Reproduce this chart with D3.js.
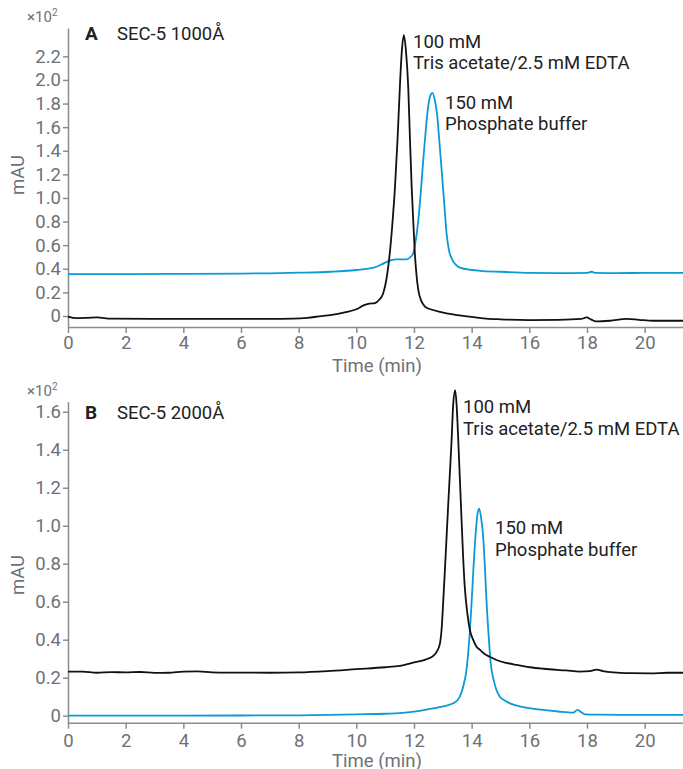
<!DOCTYPE html>
<html>
<head>
<meta charset="utf-8">
<script src="https://cdn.jsdelivr.net/npm/d3@7"></script>
<style>
  body { margin: 0; background: #fff; overflow: hidden; }
  svg { display: block; font-family: Roboto, sans-serif; }
</style>
</head>
<body>
<div id="app"></div>
<script>
// x ticks (min)
const xTicks = [0, 2, 4, 6, 8, 10, 12, 14, 16, 18, 20];
const yTicksA = [0, 0.2, 0.4, 0.6, 0.8, 1.0, 1.2, 1.4, 1.6, 1.8, 2.0, 2.2];
const yTicksB = [0, 0.2, 0.4, 0.6, 0.8, 1.0, 1.2, 1.4, 1.6];

// Panel A : SEC-5 1000Å   [time (min), mAU x10^2]
const trisA = [[0,-0.005],[0.3,-0.018],[0.7,-0.015],[1.0,-0.012],[1.5,-0.022],[3,-0.024],[5,-0.025],[7,-0.025],
  [7.8,-0.022],[8.3,-0.015],[8.8,0.0],[9.1,0.008],[9.6,0.03],[10.0,0.057],[10.25,0.09],[10.45,0.105],[10.65,0.11],
  [10.8,0.14],[10.93,0.19],[11.05,0.32],[11.16,0.53],[11.25,0.78],[11.34,1.09],[11.43,1.5],[11.51,1.94],[11.58,2.25],
  [11.65,2.38],[11.72,2.25],[11.8,1.94],[11.86,1.5],[11.92,1.09],[11.98,0.78],[12.03,0.53],[12.09,0.34],[12.15,0.22],
  [12.25,0.13],[12.38,0.08],[12.6,0.055],[12.9,0.036],[13.4,0.012],[13.94,-0.006],[14.5,-0.022],[15,-0.028],[16,-0.034],
  [17,-0.032],[17.8,-0.025],[17.98,-0.012],[18.15,-0.03],[18.3,-0.046],[18.8,-0.04],[19.37,-0.025],[19.8,-0.032],
  [20.3,-0.04],[21.33,-0.04]];
const phosA = [[0,0.355],[2,0.355],[4,0.357],[6,0.36],[7,0.362],[8,0.367],[9.1,0.375],[10,0.39],[10.6,0.41],[10.9,0.44],
  [11.16,0.47],[11.4,0.48],[11.74,0.48],[11.88,0.5],[11.97,0.53],[12.06,0.64],[12.15,0.81],[12.24,1.06],[12.32,1.32],
  [12.41,1.58],[12.49,1.77],[12.57,1.87],[12.64,1.89],[12.72,1.83],[12.8,1.71],[12.88,1.48],[12.96,1.235],[13.05,0.95],
  [13.13,0.70],[13.21,0.56],[13.3,0.49],[13.45,0.435],[13.59,0.41],[14.0,0.39],[14.29,0.383],[15,0.375],[16.02,0.366],
  [17,0.364],[18.0,0.365],[18.15,0.375],[18.3,0.365],[19,0.364],[20,0.365],[21.33,0.365]];

// Panel B : SEC-5 2000Å
const trisB = [[0,0.232],[0.5,0.232],[1,0.226],[1.5,0.229],[2,0.228],[2.5,0.23],[3,0.225],[3.5,0.226],[4,0.232],
  [4.5,0.233],[5,0.228],[5.5,0.227],[6,0.227],[7,0.226],[8,0.228],[9,0.235],[10,0.245],[11,0.255],[11.5,0.262],
  [12.0,0.28],[12.4,0.295],[12.67,0.315],[12.8,0.34],[12.9,0.38],[12.96,0.46],[13.01,0.59],[13.07,0.76],[13.13,0.94],
  [13.19,1.12],[13.25,1.29],[13.31,1.47],[13.36,1.64],[13.43,1.714],[13.48,1.63],[13.53,1.47],[13.59,1.25],[13.65,1.03],
  [13.7,0.85],[13.76,0.68],[13.85,0.54],[13.94,0.45],[14.05,0.4],[14.17,0.363],[14.29,0.346],[14.45,0.325],[14.63,0.31],
  [14.86,0.293],[15.2,0.278],[15.56,0.267],[16.02,0.255],[16.5,0.247],[17.29,0.238],[17.75,0.232],[18.1,0.234],
  [18.33,0.242],[18.55,0.235],[18.91,0.228],[19.5,0.224],[20.2,0.223],[20.8,0.226],[21.33,0.226]];
const phosB = [[0,0.0],[2,0.0],[4,0.0],[6,0.001],[8,0.002],[9,0.004],[10,0.007],[11,0.01],[11.51,0.013],[12.2,0.025],
  [12.67,0.039],[13.1,0.052],[13.36,0.065],[13.5,0.08],[13.59,0.1],[13.7,0.15],[13.82,0.24],[13.88,0.33],[13.94,0.45],
  [14.0,0.6],[14.06,0.77],[14.15,0.98],[14.2,1.06],[14.26,1.09],[14.33,1.04],[14.4,0.94],[14.46,0.78],[14.52,0.59],
  [14.59,0.42],[14.66,0.276],[14.76,0.19],[14.86,0.135],[14.98,0.1],[15.15,0.08],[15.33,0.065],[15.7,0.048],[16.0,0.04],
  [16.48,0.03],[17.0,0.022],[17.52,0.016],[17.67,0.03],[17.8,0.018],[17.93,0.007],[18.5,0.005],[19.5,0.004],[21.33,0.004]];

const width = 683, height = 769;
const marginLeft = 68;
const fontSize = 18.5;
const black = "#111111", blue = "#0a9ad8";
const axisGray = "#8a8d92", textGray = "#6e7177";

const svg = d3.select("#app").append("svg")
  .attr("width", width).attr("height", height)
  .attr("viewBox", [0, 0, width, height]);

const x = d3.scaleLinear().domain([0, 21.33]).range([marginLeft, width]);

function panel(cfg) {
  const y = d3.scaleLinear().domain(cfg.yDomain).range([cfg.bottom, cfg.top]);
  const g = svg.append("g");

  // y axis
  g.append("g")
    .attr("transform", `translate(${marginLeft},0)`)
    .call(d3.axisLeft(y).tickValues(cfg.yTicks).tickSize(5).tickSizeOuter(0).tickPadding(2)
      .tickFormat(d => d === 0 ? "0" : d.toFixed(1)))
    .call(a => a.selectAll("path,line").attr("stroke", axisGray).attr("stroke-width", 1.5))
    .call(a => a.selectAll("text").attr("fill", textGray).attr("font-size", fontSize).attr("font-family", "Roboto"));

  // x axis
  g.append("g")
    .attr("transform", `translate(0,${cfg.bottom})`)
    .call(d3.axisBottom(x).tickValues(xTicks).tickSize(6).tickSizeOuter(0).tickPadding(cfg.xPad))
    .call(a => a.selectAll("path,line").attr("stroke", axisGray).attr("stroke-width", 1.5))
    .call(a => a.selectAll("text").attr("fill", textGray).attr("font-size", fontSize).attr("font-family", "Roboto"));

  // axis titles
  g.append("text")
    .attr("x", 377).attr("y", cfg.bottom + cfg.titleOff)
    .attr("text-anchor", "middle").attr("fill", textGray).attr("font-size", fontSize)
    .text("Time (min)");
  g.append("text")
    .attr("transform", `translate(24,${cfg.labelY}) rotate(-90)`)
    .attr("text-anchor", "middle").attr("fill", textGray).attr("font-size", fontSize)
    .text("mAU");
  const mult = g.append("text")
    .attr("x", 27).attr("y", cfg.top - 6)
    .attr("fill", textGray).attr("font-size", 15);
  mult.append("tspan").text("×10");
  mult.append("tspan").attr("font-size", 10).attr("dy", -6).text("2");

  // panel title
  const title = g.append("text").attr("x", 85).attr("y", cfg.top + cfg.titleY).attr("fill", "#222").attr("font-size", fontSize);
  title.append("tspan").attr("font-weight", "bold").attr("font-size", 19).text(cfg.letter);
  title.append("tspan").attr("x", 117).text(cfg.name);

  const line = d3.line().x(d => x(d[0])).y(d => y(d[1])).curve(d3.curveMonotoneX);

  g.append("path").datum(cfg.phos).attr("fill", "none").attr("stroke", blue).attr("stroke-width", 1.8).attr("d", line);
  g.append("path").datum(cfg.tris).attr("fill", "none").attr("stroke", black).attr("stroke-width", 1.8).attr("d", line);

  // peak labels
  const lab = (xx, yy, lines) => {
    const t = g.append("text").attr("fill", "#222").attr("font-size", fontSize);
    lines.forEach((s, i) => t.append("tspan").attr("x", xx).attr("y", yy + i * 21.6).text(s));
  };
  lab(cfg.trisLabel[0], cfg.trisLabel[1], ["100 mM", "Tris acetate/2.5 mM EDTA"]);
  lab(cfg.phosLabel[0], cfg.phosLabel[1], ["150 mM", "Phosphate buffer"]);
}

panel({
  letter: "A", name: "SEC-5 1000Å",
  yDomain: [-0.093, 2.44], yTicks: yTicksA, top: 28, bottom: 327, labelY: 175,
  xPad: 3, titleOff: 45, titleY: 12,
  tris: trisA, phos: phosA,
  trisLabel: [413, 47.7], phosLabel: [445, 108.5]
});
panel({
  letter: "B", name: "SEC-5 2000Å",
  yDomain: [-0.037, 1.653], yTicks: yTicksB, top: 401.7, bottom: 722.7, labelY: 575,
  xPad: 5, titleOff: 44.5, titleY: 17,
  tris: trisB, phos: phosB,
  trisLabel: [463, 413.3], phosLabel: [495, 534]
});
</script>
</body>
</html>
